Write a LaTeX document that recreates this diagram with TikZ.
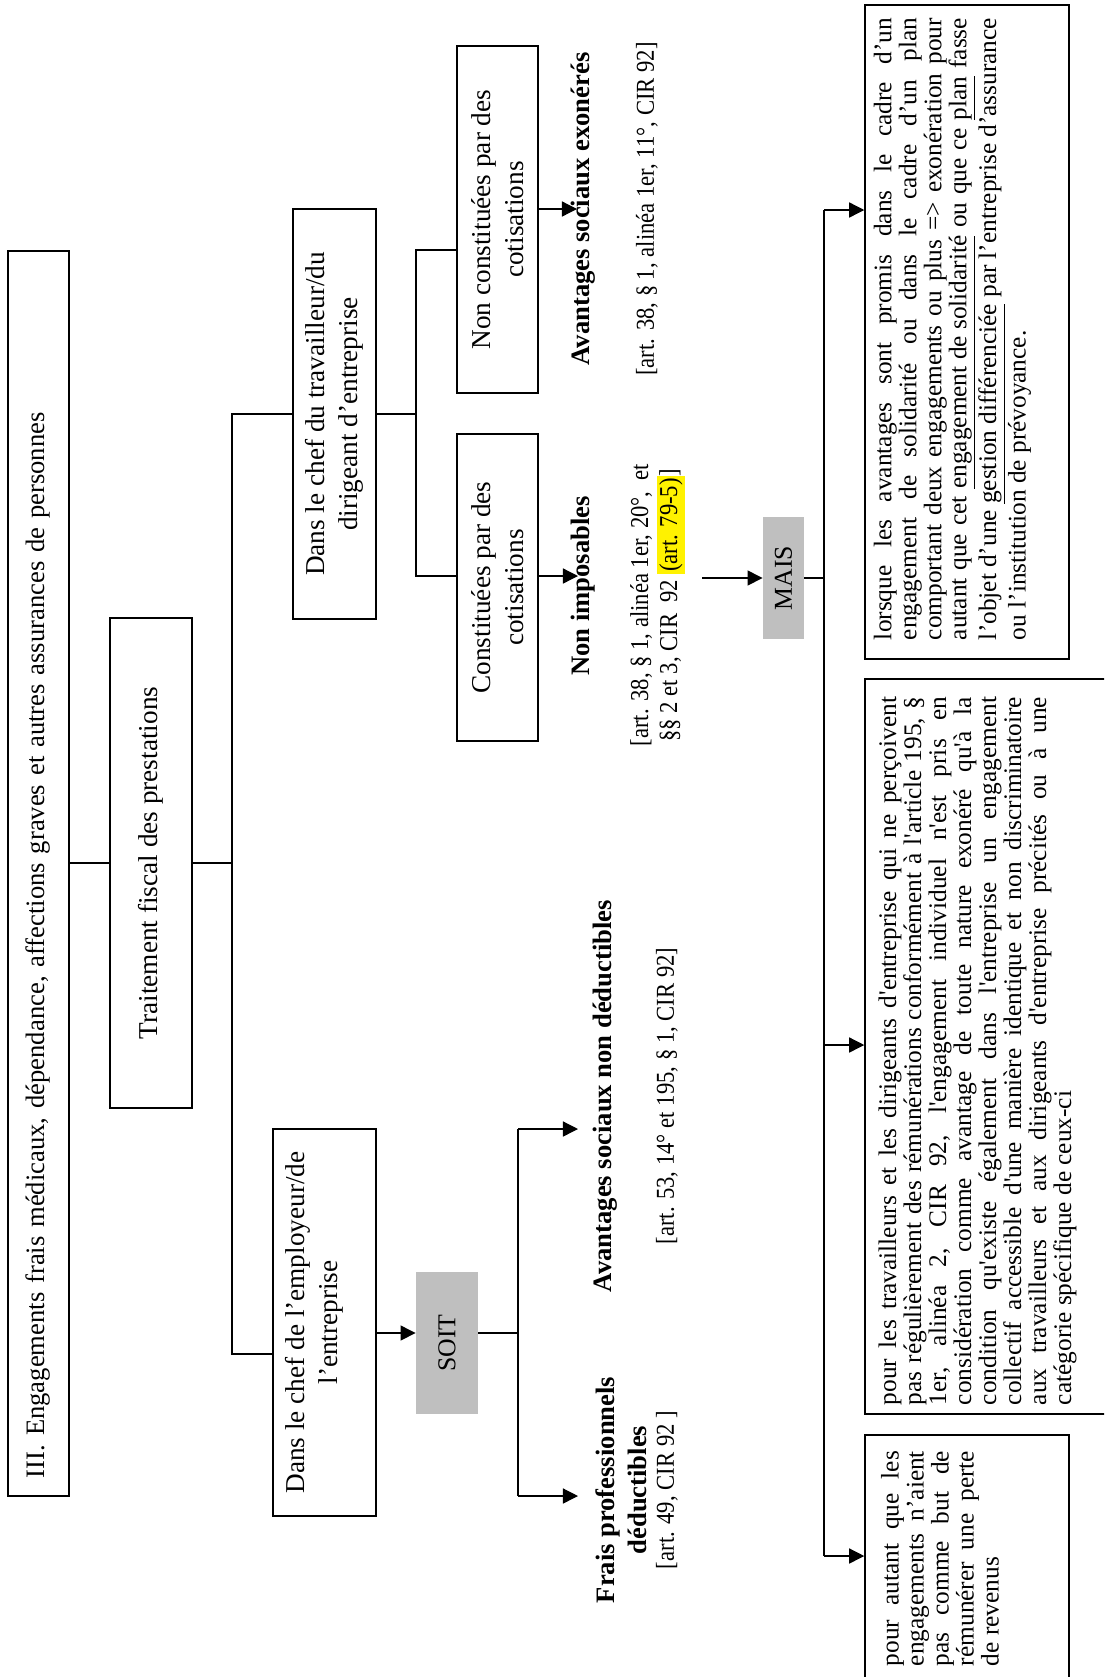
\documentclass[tikz,border=0pt]{standalone}
\usepackage{fontspec}
\setmainfont{Liberation Serif}
\newfontfamily\condfont{Liberation Serif}[FakeStretch=0.88]
\usetikzlibrary{arrows.meta}
\newlength\pxu \setlength\pxu{0.466pt}
\newcommand{\sq}{\textquotesingle}
\newcommand{\jl}[1]{\hbox to\hsize{\spaceskip=.25em plus 1em minus .15em\relax #1}}
\newcommand{\lastl}[1]{\hbox{#1}}
\tikzset{
  box/.style={draw, line width=0.7pt, rotate=90, inner sep=0pt, align=center, font=\fontsize{12.7pt}{15.4pt}\selectfont},
  greybox/.style={fill=black!25, rotate=90, inner sep=0pt, font=\fontsize{12pt}{14pt}\selectfont},
  lbl/.style={rotate=90, inner sep=0pt, align=center, font=\bfseries\fontsize{12.4pt}{15pt}\selectfont},
  cit/.style={rotate=90, inner sep=0pt, align=center, font=\condfont\fontsize{12pt}{13.5pt}\selectfont},
  para/.style={rotate=90, inner sep=0pt, font=\fontsize{11.8pt}{11.65pt}\selectfont},
  frame/.style={draw, line width=0.7pt, inner sep=0pt},
  ln/.style={line width=0.6pt},
  arr/.style={line width=0.6pt, -{Triangle[length=7pt,width=7pt]}},
}
\begin{document}
\begin{tikzpicture}[x=0.466pt, y=-0.466pt]
\fill[white] (0,0) rectangle (1104,1677);
\useasboundingbox (0,0) rectangle (1104,1677);
\begin{scope}
\clip (0,0) rectangle (1104,1677);

% main boxes
\node[box, font=\fontsize{12.4pt}{15pt}\selectfont, minimum width=1245\pxu, minimum height=61\pxu, text width=1209\pxu, align=left] (title) at (38.5,873.5)
  {III. Engagements frais médicaux, dépendance, affections graves et autres assurances de personnes};
\node[box, minimum width=490\pxu, minimum height=82\pxu] (trait) at (151,863) {Traitement fiscal des prestations};
\node[box, minimum width=410\pxu, minimum height=83\pxu] (trav) at (334.5,414) {Dans le chef du travailleur/du\\dirigeant d’entreprise};
\node[box, minimum width=387\pxu, minimum height=103\pxu] (emp) at (324.5,1322.5) {Dans le chef de l’employeur/de\\l’entreprise\rule[-12pt]{0pt}{1pt}};
\node[box, minimum width=347\pxu, minimum height=81\pxu] (nonc) at (497.5,219.5) {Non constituées par des\\cotisations};
\node[box, minimum width=307\pxu, minimum height=81\pxu] (conc) at (497.5,587.5) {Constituées par des\\cotisations};

\node[greybox, minimum width=142\pxu, minimum height=62\pxu] (soit) at (447,1343) {SOIT};
\node[greybox, minimum width=122\pxu, minimum height=41\pxu] (mais) at (783.5,578) {MAIS};

% labels
\node[lbl] (avexo) at (583,209) {Avantages sociaux exonérés};
\node[cit] (citexo) at (647,209) {[art. 38, § 1, alinéa 1er, 11°, CIR 92]};
\node[lbl] (nonimp) at (583,586) {Non imposables};
\node[cit] (citimp) at (657.5,605) {[art. 38, § 1, alinéa 1er, 20°,\ \ et\\§§ 2 et 3, CIR\ \ 92 {\setlength\fboxsep{1pt}\colorbox{yellow}{(art. 79-5)}}]};
\node[lbl] (avnd) at (605,1096) {Avantages sociaux non déductibles};
\node[cit] (citnd) at (667,1096) {[art. 53, 14° et 195, § 1, CIR 92]};
\node[lbl] (frais) at (621,1490) {Frais professionnels\\déductibles};
\node[cit] (citfr) at (667,1490) {[art. 49, CIR 92 ]};

% bottom frames
\node[frame, minimum width=204\pxu, minimum height=654\pxu] (rb) at (967,332) {};
\node[frame, minimum width=241\pxu, minimum height=735\pxu] (mb) at (985.5,1046.5) {};
\node[frame, minimum width=204\pxu, minimum height=260\pxu] (lb) at (967,1565) {};

\node[para] (rbt) at (952.5,329) {\parbox{622\pxu}{%
\jl{lorsque les avantages sont promis dans le cadre d’un}
\jl{engagement de solidarité ou dans le cadre d’un plan}
\jl{comportant deux engagements ou plus => exonération pour}
\jl{autant que cet \underline{engagement de solidarité} ou que ce \underline{plan} fasse}
\jl{l’objet d’une \underline{gestion différenciée} par l’entreprise d’assurance}
\lastl{ou l’institution de prévoyance.}}};

\node[para] (mbt) at (977.5,1051) {\parbox{708\pxu}{%
\jl{pour les travailleurs et les dirigeants d\sq entreprise qui ne perçoivent}
\jl{pas régulièrement des rémunérations conformément à l\sq article 195, §}
\jl{1er, alinéa 2, CIR 92, l\sq engagement individuel n\sq est pris en}
\jl{considération comme avantage de toute nature exonéré qu\sq à la}
\jl{condition qu\sq existe également dans l\sq entreprise un engagement}
\jl{collectif accessible d\sq une manière identique et non discriminatoire}
\jl{aux travailleurs et aux dirigeants d\sq entreprise précités ou à une}
\lastl{catégorie spécifique de ceux-ci}}};

\node[para] (lbt) at (940,1558.5) {\parbox{215\pxu}{%
\jl{pour autant que les}
\jl{engagements n’aient}
\jl{pas comme but de}
\jl{rémunérer une perte}
\lastl{de revenus}}};

% connectors
\coordinate (v1t) at (232,414);
\coordinate (v1b) at (232,1354);
\draw[ln] (title.south |- trait.center) -- (trait.north);
\draw[ln] (trait.south) -- (trait.south -| v1t);
\draw[ln] (trav.north) -- (v1t) -- (v1b) -- (v1b -| emp.north);

\coordinate (v2t) at (416,250);
\coordinate (v2b) at (416,576);
\draw[ln] (trav.south) -- (trav.south -| v2t);
\draw[ln] (v2t -| nonc.north) -- (v2t) -- (v2b) -- (v2b -| conc.north);
\coordinate (tipexo) at (577,209);
\coordinate (tipimp) at (578,576);
\draw[arr] (nonc.south |- tipexo) -- (tipexo);
\draw[arr] (conc.south |- tipimp) -- (tipimp);

\coordinate (maisin) at (702,578);
\draw[arr] (maisin) -- (mais.north);
\coordinate (v3t) at (824,210);
\coordinate (v3m) at (824,1045);
\coordinate (v3b) at (824,1556);
\draw[ln] (mais.south) -- (mais.south -| v3t);
\draw[ln] (v3t) -- (v3b);
\draw[arr] (v3t) -- (v3t -| rb.west);
\draw[arr] (v3m) -- (v3m -| mb.west);
\draw[arr] (v3b) -- (v3b -| lb.west);

\coordinate (s1) at (400,1333);
\draw[arr] (emp.south |- s1) -- (soit.north |- s1);
\coordinate (v4t) at (518,1129);
\coordinate (v4b) at (518,1496);
\draw[ln] (soit.south |- s1) -- (v4t |- s1);
\draw[ln] (v4t) -- (v4b);
\coordinate (tipnd) at (578,1129);
\coordinate (tipfr) at (578,1496);
\draw[arr] (v4t) -- (tipnd);
\draw[arr] (v4b) -- (tipfr);
\end{scope}
\end{tikzpicture}
\end{document}
